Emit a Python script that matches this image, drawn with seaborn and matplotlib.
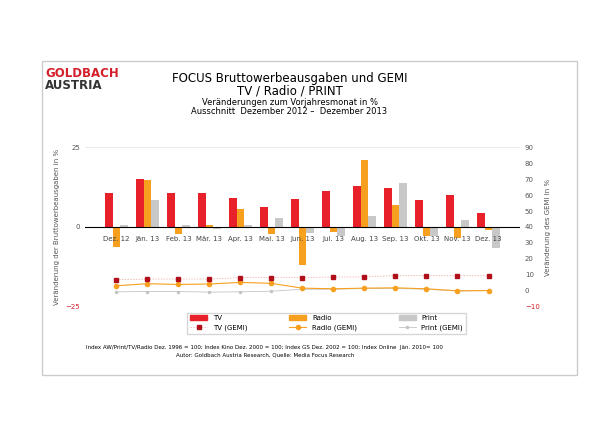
import matplotlib
matplotlib.use("Agg")
import matplotlib.pyplot as plt
import pandas as pd
import seaborn as sns
from matplotlib.patches import Rectangle

months = ["Dez. 12", "Jän. 13", "Feb. 13", "Mär. 13", "Apr. 13", "Mai. 13", "Jun. 13",
          "Jul. 13", "Aug. 13", "Sep. 13", "Okt. 13", "Nov. 13", "Dez. 13"]
tv = [10.7, 14.9, 10.7, 10.7, 9.2, 6.4, 8.8, 11.2, 12.8, 12.3, 8.3, 9.9, 4.3]
radio = [-6.3, 14.6, -2.3, 0.7, 5.7, -2.1, -12.0, -1.5, 20.9, 6.8, -2.7, -3.6, -0.8]
printm = [0.6, 8.6, 0.6, -0.5, 0.6, 2.8, -2.0, -2.9, 3.3, 13.9, -2.9, 2.1, -6.5]
tv_gemi = [7.0, 7.4, 7.4, 7.4, 8.3, 8.3, 8.3, 8.7, 8.7, 9.6, 9.6, 9.6, 9.4]
radio_gemi = [3.2, 4.5, 4.0, 4.3, 5.3, 4.7, 1.7, 1.3, 1.7, 1.9, 1.3, 0.0, 0.2]
print_gemi = [-0.6, -0.4, -0.4, -0.8, -0.6, -0.2, 1.0, 1.0, 1.5, 1.5, 1.0, 0.0, 0.2]

colors = {"TV": "#e8202a", "Radio": "#f7a020", "Print": "#c8c8c8"}

df = pd.DataFrame({"Monat": months, "TV": tv, "Radio": radio, "Print": printm})
long = df.melt(id_vars="Monat", var_name="Medium", value_name="Wert")

fig = plt.figure(figsize=(6.16, 4.34), dpi=100)
fig.patches.append(Rectangle((0.068, 0.135), 0.868, 0.725, transform=fig.transFigure,
                             fill=False, edgecolor="#cccccc", linewidth=1))
fig.text(0.073, 0.822, "GOLDBACH", color="#d4202a", fontsize=8.5, fontweight="bold")
fig.text(0.073, 0.794, "AUSTRIA", color="#333333", fontsize=8.5, fontweight="bold")
fig.text(0.47, 0.812, "FOCUS Bruttowerbeausgaben und GEMI", ha="center", fontsize=8.5)
fig.text(0.47, 0.783, "TV / Radio / PRINT", ha="center", fontsize=8.5)
fig.text(0.47, 0.758, "Veränderungen zum Vorjahresmonat in %", ha="center", fontsize=6)
fig.text(0.47, 0.737, "Ausschnitt  Dezember 2012 –  Dezember 2013", ha="center", fontsize=6)

ax = fig.add_axes([0.138, 0.293, 0.706, 0.368])
sns.barplot(data=long, x="Monat", y="Wert", hue="Medium", palette=colors,
            width=0.75, saturation=1, ax=ax, legend=False)
ax.set_ylim(-25, 25)
ax.set_yticks([-25, 0, 25])
ax.axhline(0, color="black", linewidth=0.8)
ax.set_xticks([])
ax.set_xlabel("")
ax.set_ylabel("Veränderung der Bruttowerbeausgaben in %", fontsize=5, color="#555555")
for i, m in enumerate(months):
    ax.text(i, -3.8, m, ha="center", va="center", fontsize=5, color="#444444")
ax.grid(axis="y", color="#e6e6e6", linewidth=0.6)
ax.set_axisbelow(True)
for s in ax.spines.values():
    s.set_visible(False)
ax.tick_params(axis="y", labelsize=5, length=0, colors="#555555")
ax.get_yticklabels()[0].set_color("#d4202a")

ax2 = ax.twinx()
x = list(range(len(months)))
ax2.plot(x, print_gemi, color="#c4c4c4", marker="o", markersize=1.5, linewidth=0.6,
         label="Print (GEMI)")
ax2.plot(x, radio_gemi, color="#f7a020", marker="o", markersize=3, linewidth=0.8,
         label="Radio (GEMI)")
ax2.plot(x, tv_gemi, color="#f2a0a0", marker="s", markersize=2.5, linewidth=0.5,
         linestyle=(0, (2, 2)), markerfacecolor="#b0101a", markeredgecolor="#b0101a",
         label="TV (GEMI)")
ax2.set_ylim(-10, 90)
ax2.set_yticks(range(-10, 91, 10))
ax2.set_ylabel("Veränderung des GEMI in %", fontsize=5, color="#555555")
for s in ax2.spines.values():
    s.set_visible(False)
ax2.tick_params(axis="y", labelsize=5, length=0, colors="#555555")
ax2.get_yticklabels()[0].set_color("#d4202a")

handles = [Rectangle((0, 0), 1, 1, color=colors["TV"]),
           Rectangle((0, 0), 1, 1, color=colors["Radio"]),
           Rectangle((0, 0), 1, 1, color=colors["Print"])]
lh = ax2.get_legend_handles_labels()[0]
fig.legend([handles[0], lh[2], handles[1], lh[1], handles[2], lh[0]],
           ["TV", "TV (GEMI)", "Radio", "Radio (GEMI)", "Print", "Print (GEMI)"],
           ncol=3, fontsize=5, loc="center", bbox_to_anchor=(0.53, 0.255),
           frameon=True, fancybox=False, edgecolor="#cccccc", columnspacing=6,
           handlelength=2.5)
fig.text(0.43, 0.195, "Index AW/Print/TV/Radio Dez. 1996 = 100; Index Kino Dez. 2000 = 100; "
         "Index GS Dez. 2002 = 100; Index Online  Jän. 2010= 100", ha="center", fontsize=4)
fig.text(0.43, 0.178, "Autor: Goldbach Austria Research, Quelle: Media Focus Research",
         ha="center", fontsize=4)

fig.savefig("out.png", dpi=100)
